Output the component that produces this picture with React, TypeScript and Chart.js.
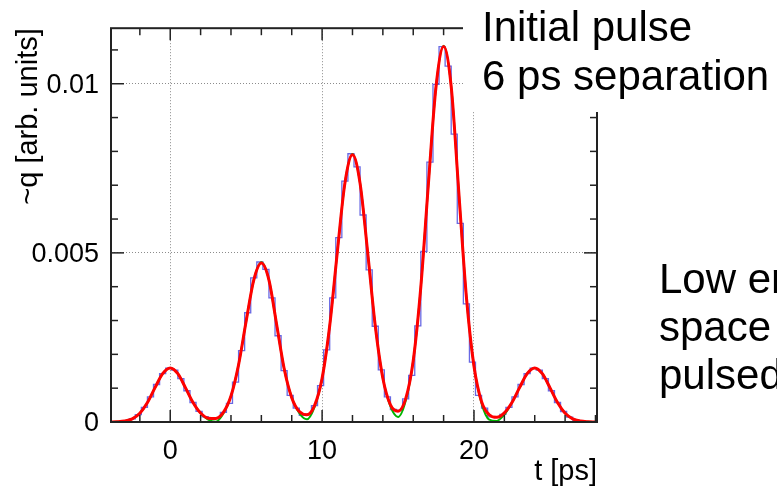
import React, { useEffect, useRef } from 'react';
import { Chart, registerables } from 'chart.js';

Chart.register(...registerables);

const FONT = '"Liberation Sans", Arial, Helvetica, sans-serif';

// ---- axis ranges and ticks ----
const X_MIN = -3.9;
const X_MAX = 28.1;
const Y_MIN = 0;
const Y_MAX = 0.011642;

const xTicksMajor = [0, 10, 20];
const xTickLabels = ['0', '10', '20'];
const xTicksMinor = [-2, 2, 4, 6, 8, 12, 14, 16, 18, 22, 24, 26, 28];
const yTicksMajor = [0, 0.005, 0.01];
const yTickLabels = ['0', '0.005', '0.01'];
const yTicksMinor = [0.001, 0.002, 0.003, 0.004, 0.006, 0.007, 0.008, 0.009, 0.011];

const xTitle = 't [ps]';
const yTitle = '~q [arb. units]';
const topNote = ['Initial pulse', '6 ps separation'];
const sideNote = ['Low energy', 'space charge', 'pulsed beam'];

// ---- histogram (bin centres, bin contents) ----
const histCenters = [
  -3.7, -3.3, -2.9, -2.5, -2.1, -1.7, -1.3, -0.9, -0.5, -0.1,
  0.3, 0.7, 1.1, 1.5, 1.9, 2.3, 2.7, 3.1, 3.5, 3.9,
  4.3, 4.7, 5.1, 5.5, 5.9, 6.3, 6.7, 7.1, 7.5, 7.9,
  8.3, 8.7, 9.1, 9.5, 9.9, 10.3, 10.7, 11.1, 11.5, 11.9,
  12.3, 12.7, 13.1, 13.5, 13.9, 14.3, 14.7, 15.1, 15.5, 15.9,
  16.3, 16.7, 17.1, 17.5, 17.9, 18.3, 18.7, 19.1, 19.5, 19.9,
  20.3, 20.7, 21.1, 21.5, 21.9, 22.3, 22.7, 23.1, 23.5, 23.9,
  24.3, 24.7, 25.1, 25.5, 25.9, 26.3, 26.7, 27.1, 27.5, 27.9,
];
const histValues = [
  0.000003, 0.000012, 0.000035, 0.000094, 0.000216, 0.000431, 0.000744, 0.001108, 0.001429, 0.001593,
  0.001536, 0.001281, 0.000924, 0.000577, 0.000313, 0.000155, 0.000092, 0.000124, 0.000283, 0.00055,
  0.00118, 0.00211, 0.00323, 0.00426, 0.00473, 0.00451, 0.00367, 0.00255, 0.00152, 0.00079,
  0.00041, 0.0002, 0.000235, 0.000483, 0.001074, 0.00213, 0.003671, 0.00545, 0.00712, 0.00793,
  0.00754, 0.00612, 0.0045, 0.00283, 0.00154, 0.00074, 0.00037, 0.000346, 0.000683, 0.00138,
  0.00284, 0.00504, 0.00768, 0.00998, 0.0111, 0.01052, 0.00851, 0.00587, 0.00349, 0.00177,
  0.00079, 0.00041, 0.00015, 0.000137, 0.000228, 0.000431, 0.000744, 0.001108, 0.001429, 0.001593,
  0.001536, 0.001281, 0.000924, 0.000577, 0.000311, 0.000145, 0.000059, 0.00002, 0.000006, 0.000002,
];

// ---- smooth curves (time, red fit, green fit) ----
const curveTimes = [
  -4, -3.5, -3, -2.5, -2, -1.5, -1, -0.5, 0, 0.5,
  1, 1.5, 2, 2.5, 3, 3.5, 4, 4.5, 5, 5.5,
  6, 6.5, 7, 7.5, 8, 8.5, 9, 9.5, 10, 10.5,
  11, 11.5, 12, 12.5, 13, 13.5, 14, 14.5, 15, 15.5,
  16, 16.5, 17, 17.5, 18, 18.5, 19, 19.5, 20, 20.5,
  21, 21.5, 22, 22.5, 23, 23.5, 24, 24.5, 25, 25.5,
  26, 26.5, 27, 27.5, 28,
];
const redValues = [
  0.000001, 0.000006, 0.000027, 0.000094, 0.000261, 0.000576, 0.001016, 0.001429, 0.0016, 0.001429,
  0.001016, 0.000577, 0.000264, 0.000112, 0.000106, 0.000283, 0.000767, 0.001692, 0.002985, 0.004197,
  0.0047, 0.004197, 0.0029, 0.00158, 0.00072, 0.000307, 0.000213, 0.000483, 0.001291, 0.002844,
  0.005017, 0.007055, 0.0079, 0.007055, 0.005017, 0.002845, 0.001296, 0.000508, 0.000321, 0.000683,
  0.001815, 0.003996, 0.007049, 0.009912, 0.0111, 0.009912, 0.0068, 0.0037, 0.00165, 0.0006,
  0.000215, 0.000137, 0.000269, 0.000577, 0.001016, 0.001429, 0.0016, 0.001429, 0.001016, 0.000576,
  0.000261, 0.000094, 0.000027, 0.000006, 0.000001,
];
const greenValues = [
  0.000001, 0.000006, 0.000027, 0.000094, 0.000261, 0.000576, 0.001016, 0.001429, 0.0016, 0.001429,
  0.001016, 0.000577, 0.000264, 0.00007, 0.00001, 0.00025, 0.000767, 0.001692, 0.002985, 0.004197,
  0.00472, 0.004197, 0.0029, 0.00158, 0.00072, 0.00026, 0.00008, 0.00044, 0.001291, 0.002844,
  0.005017, 0.007055, 0.00792, 0.007055, 0.005017, 0.002845, 0.001296, 0.00046, 0.00015, 0.00062,
  0.001815, 0.003996, 0.007049, 0.009912, 0.01112, 0.009912, 0.0068, 0.0037, 0.00165, 0.00055,
  0.00007, 0.00003, 0.00022, 0.000577, 0.001016, 0.001429, 0.0016, 0.001429, 0.001016, 0.000576,
  0.000261, 0.000094, 0.000027, 0.000006, 0.000001,
];

const framePlugin = {
  id: 'rootFrame',
  afterDraw(chart: any) {
    const { ctx, chartArea } = chart;
    const { left, right, top, bottom } = chartArea;
    const xs = chart.scales.x;
    const ys = chart.scales.y;
    ctx.save();
    ctx.strokeStyle = '#222';
    ctx.lineWidth = 1.5;
    const line = (x1: number, y1: number, x2: number, y2: number) => {
      ctx.beginPath();
      ctx.moveTo(x1, y1);
      ctx.lineTo(x2, y2);
      ctx.stroke();
    };
    const xAll = [...xTicksMajor.map((v) => [v, 12]), ...xTicksMinor.map((v) => [v, 7])];
    for (const [v, len] of xAll) {
      const px = xs.getPixelForValue(v);
      if (px < left || px > right) continue;
      line(px, bottom, px, bottom - len);
      line(px, top, px, top + len);
    }
    const yAll = [...yTicksMajor.map((v) => [v, 13]), ...yTicksMinor.map((v) => [v, 7])];
    for (const [v, len] of yAll) {
      const py = ys.getPixelForValue(v);
      if (py < top || py > bottom) continue;
      line(left, py, left + len, py);
      line(right, py, right - len, py);
    }
    ctx.lineWidth = 2;
    ctx.strokeRect(left, top, right - left, bottom - top);

    // pave covering the top-right corner
    ctx.fillStyle = '#fff';
    ctx.fillRect(463, 0, chart.width - 463, 112);

    ctx.fillStyle = '#000';
    ctx.textBaseline = 'alphabetic';
    ctx.font = `42px ${FONT}`;
    ctx.textAlign = 'left';
    ctx.fillText(topNote[0], 482, 41);
    ctx.fillText(topNote[1], 482, 90);
    ctx.fillText(sideNote[0], 659, 293);
    ctx.fillText(sideNote[1], 659, 341);
    ctx.fillText(sideNote[2], 659, 389);

    // axis titles
    ctx.font = `29px ${FONT}`;
    ctx.textAlign = 'right';
    ctx.fillText(xTitle, right, 480);
    ctx.save();
    ctx.translate(37, top);
    ctx.rotate(-Math.PI / 2);
    ctx.textAlign = 'right';
    ctx.fillText(yTitle, 0, 0);
    ctx.restore();
    ctx.restore();
  },
};

export default function App() {
  const ref = useRef<HTMLCanvasElement>(null);
  useEffect(() => {
    const canvas = ref.current;
    if (!canvas) return;
    const chart = new Chart(canvas, {
      type: 'line',
      data: {
        datasets: [
          {
            label: 'fit',
            data: curveTimes.map((t, i) => ({ x: t, y: redValues[i] })),
            borderColor: '#ff0000',
            borderWidth: 3,
            pointRadius: 0,
            cubicInterpolationMode: 'monotone',
            fill: false,
            order: 1,
          },
          {
            label: 'fit2',
            data: curveTimes.map((t, i) => ({ x: t, y: greenValues[i] })),
            borderColor: '#00b400',
            borderWidth: 2,
            pointRadius: 0,
            cubicInterpolationMode: 'monotone',
            fill: false,
            order: 2,
          },
          {
            label: 'hist',
            data: histCenters.map((t, i) => ({ x: t, y: histValues[i] })),
            borderColor: 'rgba(40,40,215,0.7)',
            borderWidth: 1.3,
            pointRadius: 0,
            stepped: 'middle',
            fill: false,
            order: 3,
          },
        ],
      },
      options: {
        responsive: false,
        animation: false,
        devicePixelRatio: 1,
        layout: { padding: { left: 0, right: 180, top: 25, bottom: 0 } },
        plugins: { legend: { display: false }, tooltip: { enabled: false } },
        scales: {
          x: {
            type: 'linear',
            min: X_MIN,
            max: X_MAX,
            afterBuildTicks: (s: any) => {
              s.ticks = xTicksMajor.map((v) => ({ value: v }));
            },
            afterFit: (s: any) => {
              s.height = 69;
            },
            grid: { color: '#8c8c8c', lineWidth: 1, drawTicks: false },
            border: { display: false, dash: [1, 2] },
            ticks: {
              color: '#000',
              font: { family: FONT, size: 27 },
              padding: 13,
              maxRotation: 0,
              autoSkip: false,
              callback: (_v: any, i: number) => xTickLabels[i],
            },
          },
          y: {
            type: 'linear',
            min: Y_MIN,
            max: Y_MAX,
            afterBuildTicks: (s: any) => {
              s.ticks = yTicksMajor.map((v) => ({ value: v }));
            },
            afterFit: (s: any) => {
              s.width = 111;
            },
            grid: { color: '#8c8c8c', lineWidth: 1, drawTicks: false },
            border: { display: false, dash: [1, 2] },
            ticks: {
              color: '#000',
              font: { family: FONT, size: 27 },
              padding: 12,
              labelOffset: 2,
              autoSkip: false,
              callback: (_v: any, i: number) => yTickLabels[i],
            },
          },
        },
      },
      plugins: [framePlugin],
    } as any);
    return () => chart.destroy();
  }, []);
  return (
    <div style={{ position: 'absolute', left: 0, top: 0, width: 777, height: 491, background: '#fff' }}>
      <canvas ref={ref} width={777} height={491} style={{ display: 'block', width: 777, height: 491 }} />
    </div>
  );
}
